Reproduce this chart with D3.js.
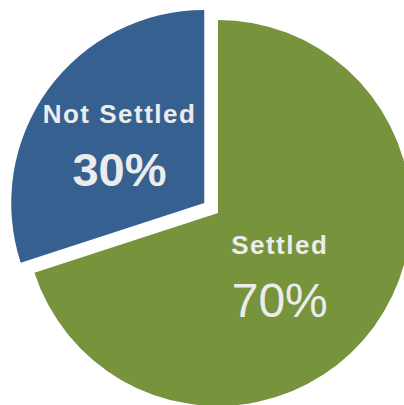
<!DOCTYPE html>
<html>
<head>
<meta charset="utf-8">
<script src="https://cdn.jsdelivr.net/npm/d3@7"></script>
<style>
  body { margin: 0; background: #fff; }
  svg { display: block; }
</style>
</head>
<body>
<div id="chart"></div>
<script>
let w = 404;
let h = 405;

// data
let labels = ["Settled", "Not Settled"];
let values = [70, 30];

// layout + style
let colors = ["#77933c", "#36608f"];
let explode = [0, 17];
let labelNudge = [[-21, 3], [-2, 2]];
let cx = 218, cy = 213, radius = 193;

let svg = d3.select("#chart").append("svg")
  .attr("width", w)
  .attr("height", h);

let pie = d3.pie().sort(null).value(function(d){ return d; });
let arcs = pie(values);

let arcMaker = d3.arc().innerRadius(0).outerRadius(radius);
let labelArc = d3.arc().innerRadius(radius * 0.53).outerRadius(radius * 0.53);

function offset(d, i){
  let mid = (d.startAngle + d.endAngle) / 2;
  return [Math.sin(mid) * explode[i], -Math.cos(mid) * explode[i]];
}

let slices = svg.selectAll(".slice").data(arcs).enter()
  .append("g")
  .attr("class", "slice")
  .attr("transform", function(d, i){
    let o = offset(d, i);
    return "translate(" + (cx + o[0]) + "," + (cy + o[1]) + ")";
  });

slices.append("path")
  .attr("d", arcMaker)
  .attr("fill", function(d, i){ return colors[i]; });

// labels
slices.each(function(d, i){
  let c = labelArc.centroid(d);
  let g = d3.select(this).append("g")
    .attr("transform", "translate(" + (c[0] + labelNudge[i][0]) + "," + (c[1] + labelNudge[i][1]) + ")");
  g.append("text")
    .text(labels[i])
    .attr("text-anchor", "middle")
    .attr("y", -22)
    .attr("fill", "#ececec")
    .style("font-family", "'Liberation Sans', Arial, sans-serif")
    .style("font-weight", "bold")
    .style("font-size", "26px")
    .style("letter-spacing", "1.5px");
  g.append("text")
    .text(values[i] + "%")
    .attr("text-anchor", "middle")
    .attr("y", 41)
    .attr("fill", "#ececec")
    .style("font-family", "'Liberation Sans', Arial, sans-serif")
    .style("font-weight", i == 0 ? "normal" : "bold")
    .style("font-size", i == 0 ? "48px" : "47px");
});
</script>
</body>
</html>
